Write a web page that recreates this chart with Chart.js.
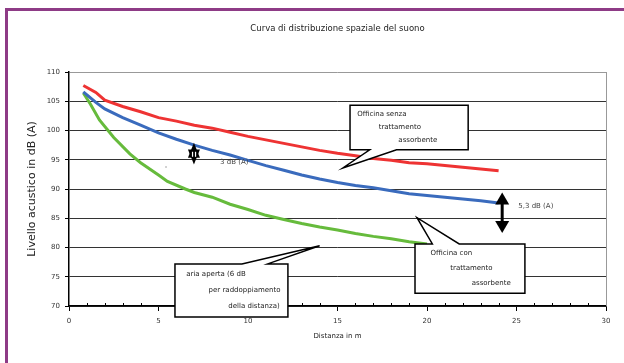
<!DOCTYPE html>
<html>
<head>
<meta charset="utf-8">
<script src="https://cdn.jsdelivr.net/npm/chart.js@4/dist/chart.umd.min.js"></script>
<style>
  body { margin: 0; background: #fff; }
</style>
</head>
<body>
<canvas id="chart" width="624" height="363"></canvas>
<script>
// distanze in m e livelli in dB(A)
let senzaDist = [0.8, 1.5, 2, 3, 4, 5, 6, 7, 8, 9, 10, 11, 12, 13, 14, 15, 16, 17, 18, 19, 20, 21, 22, 23, 24]
let senzaLiv = [107.7, 106.5, 105.2, 104.1, 103.2, 102.2, 101.6, 100.9, 100.4, 99.7, 99.0, 98.4, 97.8, 97.2, 96.6, 96.1, 95.7, 95.2, 94.9, 94.5, 94.3, 94.0, 93.7, 93.4, 93.1]

let conDist = [0.8, 1.5, 2, 3, 4, 5, 6, 7, 8, 9, 10, 11, 12, 13, 14, 15, 16, 17, 18, 19, 20, 21, 22, 23, 24]
let conLiv = [106.6, 104.8, 103.7, 102.2, 100.9, 99.6, 98.5, 97.5, 96.6, 95.8, 94.9, 94.0, 93.2, 92.4, 91.7, 91.1, 90.6, 90.2, 89.7, 89.2, 88.9, 88.6, 88.3, 88.0, 87.6]

let apertaDist = [0.8, 1.2, 1.7, 2.5, 3.4, 4, 5, 5.5, 6.5, 7, 8, 9, 10, 11, 12, 13, 14, 15, 16, 17, 18, 19, 20]
let apertaLiv = [106.4, 104.5, 101.8, 98.8, 96.0, 94.5, 92.4, 91.3, 90.0, 89.4, 88.6, 87.4, 86.5, 85.5, 84.8, 84.1, 83.5, 83.0, 82.4, 81.9, 81.5, 81.0, 80.6]

let xTicks = [0, 5, 10, 15, 20, 25, 30]
let yTicks = [70, 75, 80, 85, 90, 95, 100, 105, 110]

let titolo = 'Curva di distribuzione spaziale del suono'

function punti(xs, ys){
    let out = []
    for (var i = 0; i < xs.length; i++){
        out.push({x: xs[i], y: ys[i]})
    }
    return out
}

const FONT = 'DejaVu Sans'

// fumetti: box e punta in coordinate dei dati
let fumetti = [
    {x1: 15.7, x2: 22.3, y1: 104.3, y2: 96.7, tip: [15.3, 93.6], base: [16.8, 18.3], side: 'bottom',
     righe: [['Officina senza', 16.1], ['trattamento', 17.3], ['assorbente', 18.4]]},
    {x1: 19.33, x2: 25.47, y1: 80.6, y2: 72.2, tip: [19.44, 85.1], base: [20.3, 21.8], side: 'top',
     righe: [['Officina con', 20.2], ['trattamento', 21.3], ['assorbente', 22.5]]},
    {x1: 5.92, x2: 12.23, y1: 77.2, y2: 68.1, tip: [14.0, 80.3], base: [9.66, 11.1], side: 'top',
     righe: [['aria aperta (6 dB', 6.55], ['per raddoppiamento', 7.8], ['della distanza)', 8.9]]}
]

let extra = {
    id: 'extra',
    beforeDraw(chart){
        let c = chart.ctx
        c.save()
        c.fillStyle = '#fff'
        c.fillRect(0, 0, chart.width, chart.height)
        c.strokeStyle = '#8e3b86'
        c.lineWidth = 3
        c.strokeRect(6.5, 9.5, chart.width + 20, chart.height + 20)
        c.restore()
    },
    afterDraw(chart){
        let c = chart.ctx
        let xs = chart.scales.x, ys = chart.scales.y
        let a = chart.chartArea
        c.save()
        // titolo centrato sull'area del grafico
        c.fillStyle = '#222'
        c.font = '8.5px ' + FONT
        c.textAlign = 'center'
        c.textBaseline = 'middle'
        c.fillText(titolo, (a.left + a.right) / 2, 29)
        c.textAlign = 'left'
        // bordo destro
        c.strokeStyle = '#999'
        c.lineWidth = 1
        c.beginPath()
        c.moveTo(a.right + 0.5, a.top)
        c.lineTo(a.right + 0.5, a.bottom)
        c.stroke()
        // tacche minori asse x
        c.strokeStyle = '#000'
        for (var i = 1; i < 30; i++){
            if (i % 5 == 0) continue
            let px = Math.round(xs.getPixelForValue(i)) + 0.5
            c.beginPath()
            c.moveTo(px, a.bottom - 3)
            c.lineTo(px, a.bottom)
            c.stroke()
        }
        // fumetti
        c.font = '7px ' + FONT
        fumetti.forEach(f => {
            let L = xs.getPixelForValue(f.x1), R = xs.getPixelForValue(f.x2)
            let T = ys.getPixelForValue(f.y1), B = ys.getPixelForValue(f.y2)
            let tx = xs.getPixelForValue(f.tip[0]), ty = ys.getPixelForValue(f.tip[1])
            let b1 = xs.getPixelForValue(f.base[0]), b2 = xs.getPixelForValue(f.base[1])
            c.beginPath()
            if (f.side == 'bottom'){
                c.moveTo(L, T); c.lineTo(R, T); c.lineTo(R, B)
                c.lineTo(b2, B); c.lineTo(tx, ty); c.lineTo(b1, B)
                c.lineTo(L, B)
            } else {
                c.moveTo(L, T); c.lineTo(b1, T); c.lineTo(tx, ty); c.lineTo(b2, T)
                c.lineTo(R, T); c.lineTo(R, B); c.lineTo(L, B)
            }
            c.closePath()
            c.fillStyle = '#fff'
            c.fill()
            c.strokeStyle = '#000'
            c.lineWidth = 1.5
            c.stroke()
            c.fillStyle = '#222'
            let h = (B - T)
            f.righe.forEach((r, k) => {
                c.fillText(r[0], xs.getPixelForValue(r[1]), T + h * (0.19 + k * 0.3))
            })
        })
        // freccia 3 dB
        c.fillStyle = '#000'
        c.strokeStyle = '#000'
        let ax = xs.getPixelForValue(6.98)
        let aT = ys.getPixelForValue(97.9), aB = ys.getPixelForValue(94.2)
        c.beginPath(); c.moveTo(ax, aT); c.lineTo(ax + 6, aT + 15); c.lineTo(ax - 6, aT + 15); c.closePath(); c.fill()
        c.beginPath(); c.moveTo(ax, aB); c.lineTo(ax + 6, aB - 15); c.lineTo(ax - 6, aB - 15); c.closePath(); c.fill()
        c.fillStyle = '#fff'
        c.fillRect(ax - 2, aT + 9, 1.2, 5)
        c.fillRect(ax + 1, aT + 9, 1.2, 5)
        c.fillStyle = '#444'
        c.font = '7px ' + FONT
        c.fillText('3 dB (A)', xs.getPixelForValue(8.44), ys.getPixelForValue(94.5))
        c.fillText('-', xs.getPixelForValue(5.35), ys.getPixelForValue(93.7))
        // freccia 5,3 dB
        let bx = xs.getPixelForValue(24.2)
        let bT = ys.getPixelForValue(89.4), bB = ys.getPixelForValue(82.5)
        c.fillStyle = '#000'
        c.lineWidth = 3
        c.beginPath(); c.moveTo(bx, bT + 8); c.lineTo(bx, bB - 8); c.stroke()
        c.beginPath(); c.moveTo(bx, bT); c.lineTo(bx + 7, bT + 12); c.lineTo(bx - 7, bT + 12); c.closePath(); c.fill()
        c.beginPath(); c.moveTo(bx, bB); c.lineTo(bx + 7, bB - 12); c.lineTo(bx - 7, bB - 12); c.closePath(); c.fill()
        c.fillStyle = '#444'
        c.fillText('5,3 dB (A)', xs.getPixelForValue(25.1), ys.getPixelForValue(87.0))
        c.restore()
    }
}

let ctx = document.getElementById('chart').getContext('2d')

let grafico = new Chart(ctx, {
    type: 'line',
    data: {
        datasets: [{
            label: 'Officina senza trattamento assorbente',
            data: punti(senzaDist, senzaLiv),
            borderColor: '#ee3333',
            borderWidth: 3,
            pointRadius: 0,
        }, {
            label: 'Officina con trattamento assorbente',
            data: punti(conDist, conLiv),
            borderColor: '#3a6bbd',
            borderWidth: 3,
            pointRadius: 0,
        }, {
            label: 'aria aperta',
            data: punti(apertaDist, apertaLiv),
            borderColor: '#66bb3c',
            borderWidth: 3,
            pointRadius: 0,
        }]
    },
    options: {
        responsive: false,
        animation: false,
        layout: { padding: { left: 10, right: 18, top: 72, bottom: 0 } },
        plugins: {
            legend: { display: false },
            tooltip: { enabled: false },
            title: { display: false }
        },
        scales: {
            x: {
                type: 'linear',
                min: 0, max: 30,
                afterBuildTicks: s => { s.ticks = xTicks.map(v => ({value: v})) },
                afterFit: s => { s.height = 57 },
                ticks: { color: '#333', font: { family: FONT, size: 7 }, padding: 6 },
                grid: { drawOnChartArea: false, color: '#000', tickLength: 5 },
                border: { color: '#000', width: 1.5 },
                title: { display: true, text: 'Distanza in m', color: '#222', font: { family: FONT, size: 7 }, padding: { top: 4, bottom: 23 } }
            },
            y: {
                min: 70, max: 110,
                afterBuildTicks: s => { s.ticks = yTicks.map(v => ({value: v})) },
                afterFit: s => { s.width = 59 },
                ticks: { color: '#333', font: { family: FONT, size: 7 }, padding: 5 },
                grid: {
                    color: c => c.tick && c.tick.value == 110 ? '#999' : '#333',
                    tickColor: '#000',
                    tickLength: 4
                },
                border: { color: '#000', width: 1.5 },
                title: { display: true, text: 'Livello acustico in dB (A)', color: '#222', font: { family: FONT, size: 11 }, padding: { top: 16, bottom: 0 } }
            }
        }
    },
    plugins: [extra]
});
</script>
</body>
</html>
